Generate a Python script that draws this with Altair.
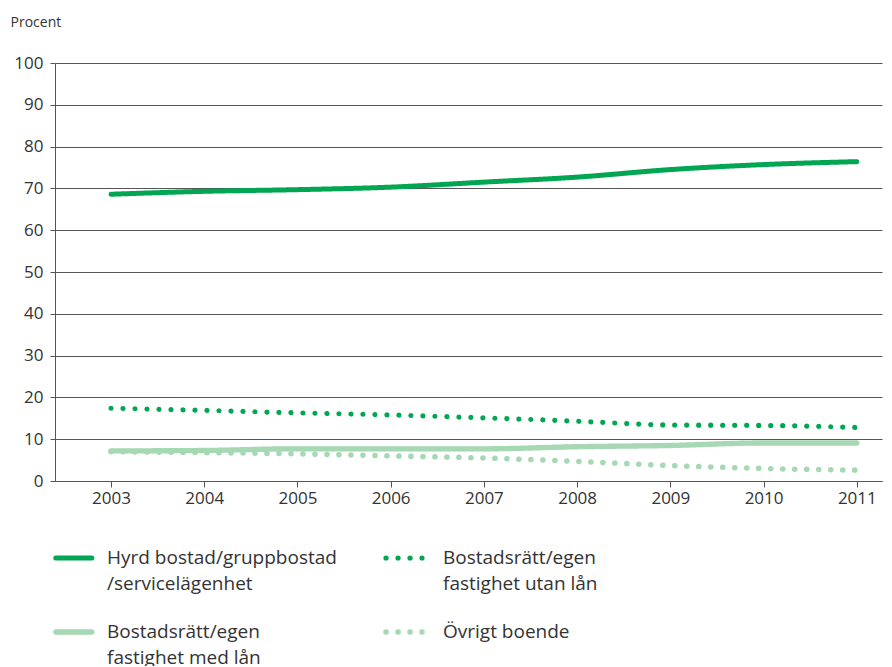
import altair as alt
import pandas as pd

years = [2003, 2004, 2005, 2006, 2007, 2008, 2009, 2010, 2011]
hyrd = [68.6, 69.3, 69.7, 70.3, 71.5, 72.7, 74.5, 75.7, 76.4]
utan_lan = [17.4, 16.9, 16.3, 15.8, 15.1, 14.3, 13.4, 13.3, 12.8]
med_lan = [7.2, 7.3, 7.7, 7.7, 7.7, 8.2, 8.5, 9.1, 9.1]
ovrigt = [7.0, 6.8, 6.5, 6.0, 5.5, 4.7, 3.7, 3.0, 2.6]

series = [
    "Hyrd bostad/gruppbostad /servicelägenhet",
    "Bostadsrätt/egen fastighet utan lån",
    "Bostadsrätt/egen fastighet med lån",
    "Övrigt boende",
]
legend_lines = [
    ["Hyrd bostad/gruppbostad", "/servicelägenhet"],
    ["Bostadsrätt/egen", "fastighet utan lån"],
    ["Bostadsrätt/egen", "fastighet med lån"],
    ["Övrigt boende"],
]
colors = ["#00a651", "#00a651", "#a5d8b3", "#a5d8b3"]
dashes = [[1, 0], [0.1, 11.9], [1, 0], [0.1, 11.9]]
widths = [5, 5.5, 7, 5.5]

rows = []
for name, vals in zip(series, [hyrd, utan_lan, med_lan, ovrigt]):
    for y, v in zip(years, vals):
        rows.append({"year": y, "value": v, "serie": name})
df = pd.DataFrame(rows)

FONT = "Open Sans"
TXT = "#333333"
AX = "#555555"
W, H = 827, 418

# legend layout (pixels relative to the plot's top-left corner)
col_x = [0, 331]
text_x = [52, 388]
sym_len = 36
row_y = [495, 569]
line_h = 26
text_base = 6

sym_rows, txt_rows = [], []
for i, name in enumerate(series):
    c, r = i % 2, i // 2
    x0 = col_x[c] + (0.8 if dashes[i][0] == 1 else 0)
    sym_rows.append({"serie": name, "x0": x0, "x1": x0 + sym_len, "y": row_y[r]})
    for k, t in enumerate(legend_lines[i]):
        txt_rows.append({"t": t, "x": text_x[c], "y": row_y[r] + text_base + k * line_h})
sym_df = pd.DataFrame(sym_rows)
txt_df = pd.DataFrame(txt_rows)

color = alt.Color("serie:N", scale=alt.Scale(domain=series, range=colors), legend=None)
dash = alt.StrokeDash("serie:N", scale=alt.Scale(domain=series, range=dashes), legend=None)
width = alt.StrokeWidth("serie:N", scale=alt.Scale(domain=series, range=widths), legend=None)

x = alt.X(
    "year:Q",
    scale=alt.Scale(domain=[2002.4, 2011.27], nice=False, zero=False),
    axis=alt.Axis(
        values=years, format="d", grid=False, title=None,
        tickSize=6, tickColor=AX, domainColor=AX, labelPadding=3,
        labelFontSize=17, labelFont=FONT, labelColor=TXT,
    ),
)
y = alt.Y(
    "value:Q",
    scale=alt.Scale(domain=[0, 100], nice=False),
    axis=alt.Axis(
        values=list(range(0, 101, 10)), grid=True, gridColor=AX, gridWidth=1,
        domainColor=AX, tickColor=AX, tickSize=5, labelPadding=7,
        labelFontSize=17, labelFont=FONT, labelColor=TXT,
        title="Procent", titleAngle=0, titleAlign="left", titleBaseline="middle",
        titleX=-45, titleY=-41, titleFont=FONT, titleFontSize=14,
        titleFontWeight="normal", titleColor=TXT,
    ),
)

base = alt.Chart(df)
line_mark = dict(strokeCap="round", strokeJoin="round", interpolate="monotone")
dotted = base.transform_filter(
    alt.FieldOneOfPredicate(field="serie", oneOf=[series[1], series[3]])
).mark_line(**line_mark).encode(x=x, y=y, color=color, strokeDash=dash, strokeWidth=width)
solid = base.transform_filter(
    alt.FieldOneOfPredicate(field="serie", oneOf=[series[2], series[0]])
).mark_line(**line_mark).encode(x=x, y=y, color=color, strokeDash=dash, strokeWidth=width)
main = alt.layer(dotted, solid)

lx = alt.Scale(domain=[0, W], nice=False, zero=False)
ly = alt.Scale(domain=[0, H], nice=False, zero=False, reverse=True)
leg_sym = alt.Chart(sym_df).mark_rule(strokeCap="round").encode(
    x=alt.X("x0:Q", scale=lx, axis=None),
    x2="x1:Q",
    y=alt.Y("y:Q", scale=ly, axis=None),
    color=color, strokeDash=dash, strokeWidth=width,
)
leg_txt = alt.Chart(txt_df).mark_text(
    align="left", baseline="alphabetic", font=FONT, fontSize=19, color=TXT
).encode(
    x=alt.X("x:Q", scale=lx, axis=None),
    y=alt.Y("y:Q", scale=ly, axis=None),
    text="t:N",
)
legend = alt.layer(leg_sym, leg_txt)

chart = (
    alt.layer(main, legend)
    .resolve_scale(x="independent", y="independent")
    .properties(
        width=W,
        height=H,
        autosize=alt.AutoSizeParams(type="none"),
        padding={"left": 47, "top": 55, "right": 2, "bottom": 185},
    )
    .configure_view(stroke=None)
)

chart.save("out.html", embed_options={"renderer": "svg", "actions": False})
